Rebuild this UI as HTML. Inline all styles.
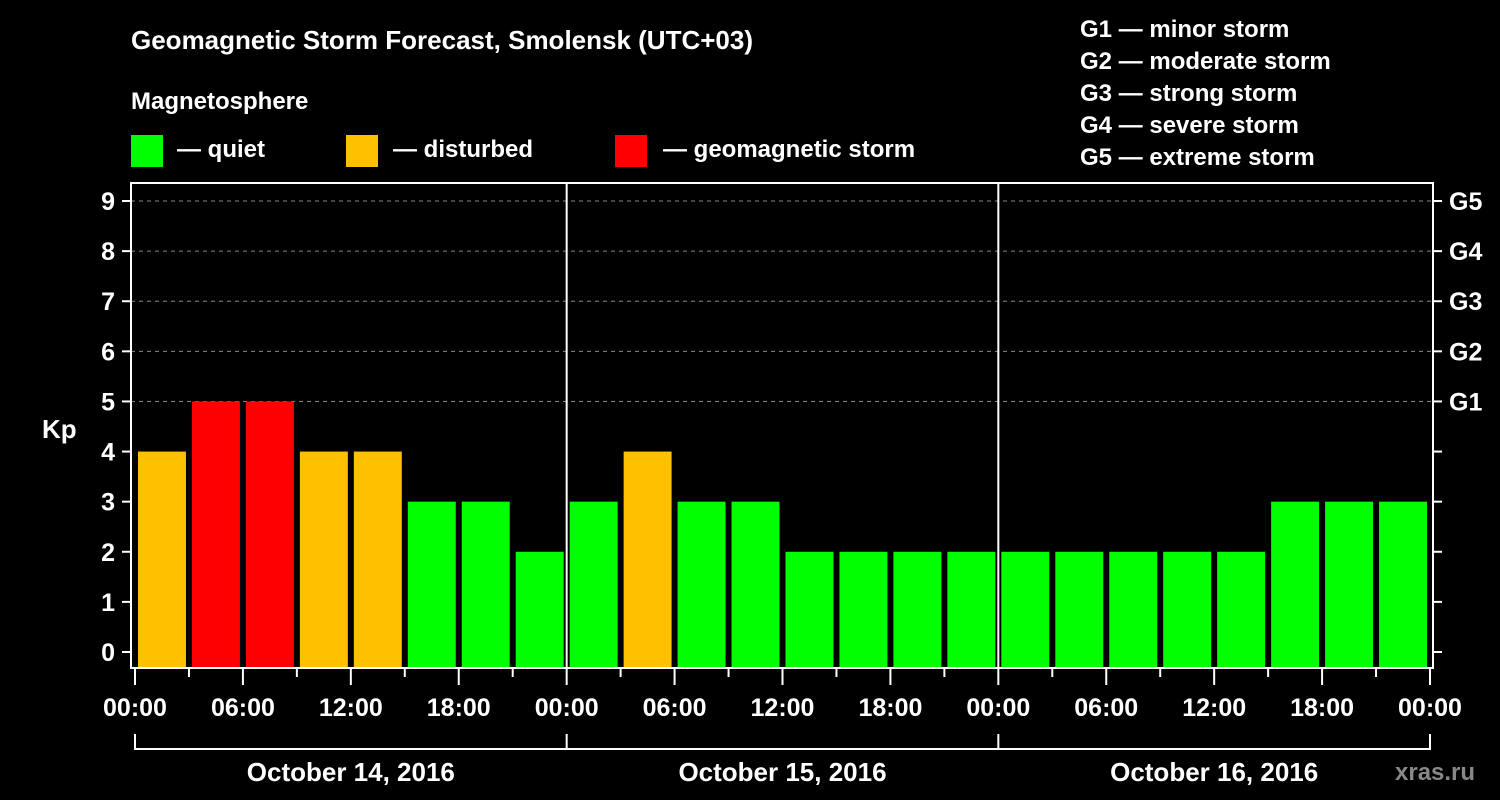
<!DOCTYPE html>
<html><head><meta charset="utf-8"><style>
html,body{margin:0;padding:0;background:#000;}
svg{display:block;font-family:"Liberation Sans",sans-serif;font-weight:bold;}
</style></head><body>
<svg width="1500" height="800" viewBox="0 0 1500 800">
<rect width="1500" height="800" fill="#000"/>
<text x="131" y="49" fill="#fff" font-size="26">Geomagnetic Storm Forecast, Smolensk (UTC+03)</text>
<text x="131" y="109" fill="#fff" font-size="24">Magnetosphere</text>
<g><rect x="131" y="135" width="32" height="32" fill="#00ff00"/><text x="177" y="157" fill="#fff" font-size="24">— quiet</text></g>
<g><rect x="346" y="135" width="32" height="32" fill="#ffc000"/><text x="393" y="157" fill="#fff" font-size="24">— disturbed</text></g>
<g><rect x="615" y="135" width="32" height="32" fill="#ff0000"/><text x="663" y="157" fill="#fff" font-size="24">— geomagnetic storm</text></g>
<g fill="#fff" font-size="24">
<text x="1080" y="37">G1 — minor storm</text>
<text x="1080" y="69">G2 — moderate storm</text>
<text x="1080" y="101">G3 — strong storm</text>
<text x="1080" y="133">G4 — severe storm</text>
<text x="1080" y="165">G5 — extreme storm</text>
</g>
<text x="42" y="438" fill="#fff" font-size="26">Kp</text>
<g id="grid"></g>
<g id="bars"></g>
<g id="axes"></g>
<text x="1395" y="780" fill="#888" font-size="24">xras.ru</text>
</svg>
<script>
const kpValues=[4,5,5,4,4,3,3,2, 3,4,3,3,2,2,2,2, 2,2,2,2,2,3,3,3];
const yTicks=[0,1,2,3,4,5,6,7,8,9];
const gLabels=["G1","G2","G3","G4","G5"];
const timeLabels=["00:00","06:00","12:00","18:00"];
const dayLabels=["October 14, 2016","October 15, 2016","October 16, 2016"];
const NS="http://www.w3.org/2000/svg";
const X0=135,X1=1430,N=kpValues.length,slot=(X1-X0)/N;
const yS=v=>652-v*50.11;
const xS=i=>X0+i*slot;
const L=131,R=1433,T=183,B=668;
function mk(tag,at,parent){const e=document.createElementNS(NS,tag);for(const k in at)e.setAttribute(k,at[k]);parent.appendChild(e);return e;}
const grid=document.getElementById('grid'),bars=document.getElementById('bars'),axes=document.getElementById('axes');
yTicks.forEach(v=>{
  if(v>=5){const g=mk('line',{x1:L,x2:R,y1:yS(v),y2:yS(v),stroke:'#888','stroke-dasharray':'4 4','stroke-width':1},grid);
  
  }
  mk('line',{x1:122,x2:L,y1:yS(v),y2:yS(v),stroke:'#fff','stroke-width':2},axes);
  mk('line',{x1:R,x2:R+9,y1:yS(v),y2:yS(v),stroke:'#fff','stroke-width':2},axes);
  const t=mk('text',{x:115,y:yS(v)+9,fill:'#fff','font-size':25,'text-anchor':'end'},axes);t.textContent=v;
  
  
});
gLabels.forEach((g,i)=>{const t=mk('text',{x:1449,y:yS(5+i)+9,fill:'#fff','font-size':25},axes);t.textContent=g;
  
  });
kpValues.forEach((v,i)=>{
  const c=v>=5?'#ff0000':(v>=4?'#ffc000':'#00ff00');
  const r=mk('rect',{x:xS(i)+3,y:yS(v),width:slot-6,height:B-yS(v),fill:c},bars);
  
  
});
mk('rect',{x:L,y:T,width:R-L,height:B-T,fill:'none',stroke:'#fff','stroke-width':2},axes);
for(let d=1;d<dayLabels.length;d++){const x=xS(d*8);mk('line',{x1:x,x2:x,y1:T,y2:B,stroke:'#fff','stroke-width':2},axes);}
for(let i=0;i<=N;i++){
  const major=i%2===0;
  mk('line',{x1:xS(i),x2:xS(i),y1:B,y2:major?685:677,stroke:'#fff','stroke-width':2},axes);
  if(major){const t=mk('text',{x:xS(i),y:716,fill:'#fff','font-size':25,'text-anchor':'middle'},axes);t.textContent=timeLabels[(i/2)%4];
    
    }
}
mk('line',{x1:X0,x2:X1,y1:749,y2:749,stroke:'#fff','stroke-width':2},axes);
for(let d=0;d<=dayLabels.length;d++){mk('line',{x1:xS(d*8),x2:xS(d*8),y1:734,y2:750,stroke:'#fff','stroke-width':2},axes);}
dayLabels.forEach((s,d)=>{const t=mk('text',{x:xS(d*8+4),y:781,fill:'#fff','font-size':26,'text-anchor':'middle'},axes);t.textContent=s;
  
  });
</script>
</body></html>
